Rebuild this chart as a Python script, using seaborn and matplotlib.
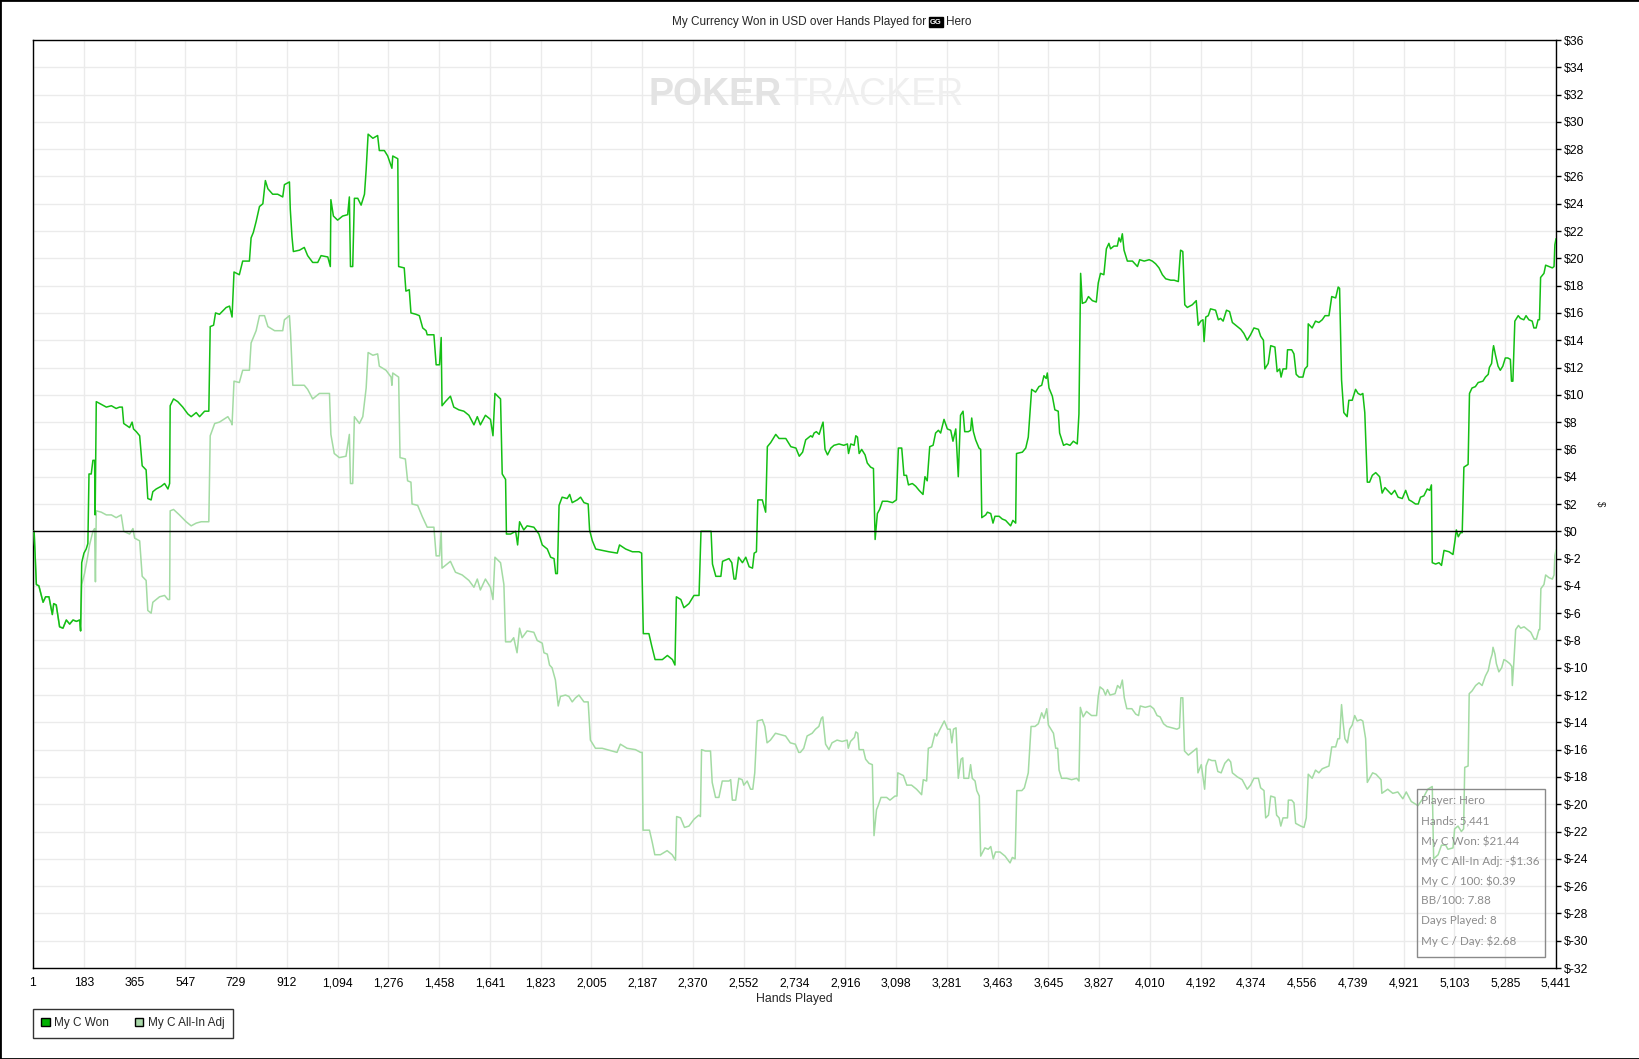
import numpy as np
import pandas as pd
import matplotlib
matplotlib.use('Agg')
import matplotlib.pyplot as plt
import seaborn as sns
from matplotlib.patches import Patch, Rectangle

# running totals (hand number, dollars)
won_hands = [1, 5, 13, 22, 37, 46, 58, 70, 75, 84, 96, 108, 120, 132, 144, 156, 168, 171, 175, 183,
             191, 197, 201, 209, 215, 221, 223, 227, 245, 263, 281, 298, 310, 320, 325, 346, 355, 360, 370, 382,
             391, 405, 411, 423, 429, 441, 459, 471, 483, 489, 491, 503, 518, 536, 554, 566, 584, 596, 614, 629,
             634, 646, 653, 667, 691, 703, 712, 719, 738, 750, 774, 780, 788, 798, 810, 822, 831, 840, 857, 875,
             893, 899, 917, 920, 926, 931, 953, 970, 982, 1000, 1018, 1030, 1054, 1063, 1065, 1074, 1089, 1107, 1125, 1131,
             1135, 1143, 1149, 1161, 1173, 1185, 1191, 1198, 1215, 1232, 1238, 1256, 1268, 1283, 1286, 1304, 1307, 1327, 1333, 1345,
             1351, 1369, 1381, 1393, 1405, 1409, 1433, 1441, 1453, 1459, 1462, 1474, 1492, 1504, 1522, 1540, 1558, 1576, 1588, 1599,
             1617, 1635, 1644, 1651, 1671, 1677, 1689, 1692, 1707, 1725, 1732, 1739, 1754, 1766, 1790, 1808, 1820, 1838, 1850, 1862,
             1868, 1874, 1880, 1891, 1909, 1918, 1927, 1945, 1957, 1969, 1984, 1989, 1999, 2011, 2034, 2058, 2088, 2096, 2118, 2142,
             2166, 2175, 2181, 2201, 2211, 2223, 2249, 2267, 2285, 2294, 2299, 2315, 2326, 2344, 2362, 2380, 2387, 2404, 2423, 2428,
             2440, 2458, 2464, 2487, 2497, 2505, 2511, 2521, 2535, 2547, 2559, 2571, 2577, 2585, 2590, 2606, 2618, 2624, 2636, 2654,
             2666, 2690, 2708, 2726, 2738, 2750, 2761, 2779, 2785, 2791, 2799, 2809, 2818, 2823, 2830, 2839, 2851, 2862, 2880, 2897,
             2910, 2914, 2922, 2934, 2940, 2946, 2952, 2961, 2973, 2981, 2993, 3003, 3009, 3017, 3025, 3035, 3053, 3071, 3085, 3092,
             3104, 3112, 3121, 3128, 3142, 3154, 3166, 3180, 3187, 3195, 3204, 3216, 3225, 3235, 3243, 3255, 3267, 3279, 3287, 3297,
             3306, 3314, 3323, 3329, 3342, 3350, 3354, 3360, 3368, 3380, 3386, 3390, 3404, 3410, 3422, 3430, 3437, 3452, 3463, 3475,
             3493, 3501, 3511, 3514, 3535, 3547, 3556, 3561, 3568, 3582, 3594, 3604, 3612, 3620, 3624, 3630, 3642, 3651, 3663, 3668,
             3676, 3682, 3693, 3705, 3717, 3731, 3737, 3743, 3749, 3761, 3771, 3785, 3799, 3806, 3814, 3826, 3835, 3844, 3850, 3862,
             3874, 3880, 3886, 3892, 3898, 3910, 3928, 3946, 3954, 3970, 3988, 3999, 4011, 4023, 4035, 4047, 4065, 4077, 4092, 4100,
             4108, 4115, 4124, 4142, 4156, 4163, 4172, 4180, 4184, 4190, 4199, 4207, 4225, 4235, 4243, 4252, 4264, 4275, 4285, 4303,
             4315, 4326, 4338, 4350, 4362, 4378, 4386, 4396, 4401, 4413, 4422, 4437, 4445, 4454, 4459, 4466, 4478, 4482, 4497, 4505,
             4513, 4523, 4537, 4544, 4553, 4556, 4570, 4582, 4594, 4606, 4616, 4630, 4640, 4654, 4663, 4668, 4675, 4683, 4695, 4701,
             4713, 4725, 4734, 4743, 4751, 4758, 4767, 4775, 4785, 4797, 4811, 4820, 4830, 4844, 4853, 4865, 4877, 4892, 4904, 4916,
             4925, 4939, 4949, 4957, 4969, 4981, 4990, 4996, 4999, 5011, 5023, 5032, 5041, 5059, 5073, 5080, 5085, 5092, 5100, 5106,
             5112, 5127, 5132, 5141, 5153, 5163, 5180, 5189, 5199, 5203, 5211, 5215, 5218, 5225, 5234, 5242, 5251, 5260, 5269, 5278,
             5282, 5287, 5294, 5306, 5314, 5326, 5334, 5344, 5356, 5362, 5370, 5377, 5382, 5386, 5398, 5404, 5416, 5428, 5434, 5437,
             5441]
won = [0, 0, -3.9, -4.0, -5.2, -4.8, -4.8, -6.1, -5.3, -5.4, -7.0, -7.1, -6.5, -6.8, -6.5, -6.6, -6.5, -7.3, -2.3, -1.6,
       -1.3, -0.9, 4.2, 4.2, 5.2, 5.2, 1.2, 9.5, 9.3, 9.1, 9.2, 9.0, 9.1, 9.1, 7.9, 7.6, 8.0, 7.5, 7.3, 7.0,
       4.8, 4.5, 2.4, 2.3, 2.9, 3.1, 3.3, 3.5, 3.1, 3.5, 9.2, 9.7, 9.5, 9.1, 8.6, 8.4, 8.7, 8.4, 8.8, 8.8,
       15.0, 15.1, 16.0, 15.9, 16.4, 16.5, 15.7, 19.0, 18.8, 19.8, 19.8, 21.5, 21.9, 22.7, 23.8, 24.0, 25.7, 25.1, 24.7, 24.7,
       24.5, 25.4, 25.6, 23.6, 21.6, 20.5, 20.6, 20.8, 20.2, 19.7, 19.7, 20.2, 20.1, 19.4, 24.3, 23.1, 22.8, 23.1, 23.2, 24.5,
       19.4, 19.4, 24.4, 24.4, 23.9, 24.7, 26.5, 29.1, 28.8, 29.0, 27.9, 27.9, 27.5, 26.6, 27.5, 27.3, 19.4, 19.3, 17.6, 17.7,
       16.0, 15.9, 15.8, 14.9, 14.7, 14.4, 14.4, 12.2, 12.2, 14.2, 9.2, 9.5, 9.9, 9.1, 8.9, 8.8, 8.5, 7.8, 8.4, 7.8,
       8.5, 8.2, 7.0, 10.1, 9.7, 4.2, 3.8, -0.2, -0.2, 0.0, -1.0, 0.7, 0.1, 0.4, 0.3, -0.2, -1.0, -1.3, -1.9, -2.0,
       -3.1, -3.1, 1.9, 2.5, 2.4, 2.7, 2.1, 2.3, 2.5, 2.1, 2.0, 0.1, -0.7, -1.3, -1.4, -1.5, -1.6, -1.0, -1.3, -1.5,
       -1.5, -1.6, -7.5, -7.5, -8.4, -9.4, -9.4, -9.1, -9.4, -9.8, -4.8, -5.0, -5.6, -5.3, -4.7, -4.7, 0.0, 0.0, 0.0, -2.4,
       -3.3, -3.3, -2.2, -2.0, -2.3, -3.5, -3.5, -1.9, -2.3, -1.9, -2.6, -2.7, -1.6, -1.5, 2.3, 2.3, 1.4, 6.2, 6.5, 7.1,
       6.8, 6.8, 6.2, 6.1, 5.5, 5.8, 6.7, 7.0, 6.9, 7.2, 7.3, 7.1, 7.7, 8.0, 6.0, 5.6, 6.1, 6.3, 6.4, 6.3,
       6.4, 5.7, 6.4, 6.3, 7.0, 6.9, 5.7, 6.0, 5.6, 5.0, 4.7, 4.6, -0.6, 1.3, 1.6, 2.2, 2.2, 2.1, 2.3, 6.1,
       6.1, 4.1, 4.1, 3.4, 3.5, 3.3, 3.0, 2.7, 4.0, 3.7, 6.2, 6.3, 7.2, 7.4, 7.2, 8.2, 7.5, 7.4, 6.6, 7.5,
       4.0, 8.5, 8.8, 7.3, 7.3, 7.4, 8.3, 7.3, 6.7, 6.1, 6.0, 1.0, 1.2, 1.4, 1.3, 0.6, 1.1, 1.1, 0.9, 0.8,
       0.4, 0.8, 0.6, 5.7, 5.8, 6.1, 6.9, 8.4, 10.4, 10.2, 10.6, 10.7, 11.4, 11.2, 11.6, 10.5, 9.9, 8.9, 8.8, 7.2,
       6.7, 6.3, 6.4, 6.3, 6.6, 6.4, 8.6, 18.9, 16.7, 16.8, 17.2, 16.9, 16.8, 18.2, 18.9, 18.8, 20.7, 21.1, 20.7, 20.9,
       20.9, 21.5, 21.2, 21.8, 20.6, 19.8, 19.8, 19.4, 19.9, 19.8, 19.9, 19.8, 19.6, 19.3, 18.8, 18.5, 18.4, 18.4, 18.3, 20.6,
       20.5, 16.6, 16.4, 16.6, 16.9, 15.1, 15.4, 15.5, 13.9, 15.7, 15.8, 16.3, 16.2, 15.5, 15.6, 15.4, 16.2, 16.1, 15.3, 15.0,
       14.8, 14.5, 14.0, 14.4, 14.9, 14.8, 14.3, 14.0, 11.9, 12.3, 13.6, 13.5, 11.7, 11.9, 11.3, 11.9, 11.9, 13.3, 13.3, 13.0,
       11.5, 11.3, 11.3, 11.9, 12.1, 15.2, 14.9, 15.4, 15.3, 15.5, 15.8, 15.8, 17.2, 17.1, 17.9, 17.8, 11.1, 8.7, 8.4, 9.6,
       9.6, 10.4, 10.1, 10.0, 10.1, 8.7, 3.6, 3.6, 4.1, 4.3, 4.0, 2.8, 3.2, 2.9, 2.7, 3.0, 2.5, 2.4, 3.0, 2.3,
       2.2, 2.0, 2.0, 2.5, 2.6, 3.1, 3.0, 3.4, -2.3, -2.4, -2.3, -2.5, -1.4, -1.5, -1.7, -0.7, 0.1, -0.4, -0.1, -0.1,
       4.7, 4.9, 10.1, 10.5, 10.6, 10.9, 11.0, 11.3, 11.5, 12.0, 12.3, 13.2, 13.6, 12.9, 12.1, 11.8, 12.1, 12.7, 12.7, 12.6,
       11.0, 11.0, 15.4, 15.8, 15.6, 15.5, 15.8, 15.5, 15.4, 14.9, 14.9, 15.5, 15.5, 18.6, 18.9, 19.5, 19.4, 19.3, 19.4, 21.0,
       21.44]

adj_hands = [1, 5, 13, 22, 37, 46, 58, 70, 75, 84, 96, 108, 120, 132, 144, 156, 168, 171, 175, 185,
             195, 203, 215, 221, 224, 227, 245, 263, 281, 298, 316, 325, 346, 358, 364, 382, 391, 405, 411, 423,
             429, 453, 471, 483, 489, 491, 503, 524, 548, 566, 584, 602, 629, 634, 650, 667, 697, 709, 712, 719,
             738, 750, 774, 780, 788, 798, 810, 828, 840, 864, 893, 899, 917, 921, 929, 953, 970, 982, 1000, 1024,
             1060, 1065, 1077, 1095, 1119, 1131, 1135, 1143, 1149, 1167, 1179, 1191, 1198, 1215, 1232, 1238, 1262, 1280, 1283, 1286,
             1307, 1312, 1331, 1339, 1351, 1355, 1375, 1391, 1409, 1433, 1441, 1453, 1459, 1462, 1492, 1510, 1534, 1558, 1576, 1588,
             1599, 1617, 1635, 1644, 1651, 1671, 1677, 1683, 1689, 1707, 1718, 1730, 1739, 1748, 1766, 1790, 1802, 1820, 1826, 1838,
             1846, 1855, 1867, 1877, 1885, 1903, 1915, 1927, 1939, 1951, 1969, 1984, 1992, 2010, 2034, 2052, 2070, 2087, 2099, 2123,
             2153, 2171, 2177, 2180, 2203, 2213, 2222, 2242, 2266, 2284, 2296, 2300, 2314, 2328, 2344, 2362, 2379, 2385, 2389, 2403,
             2421, 2427, 2439, 2451, 2463, 2487, 2493, 2499, 2511, 2522, 2534, 2540, 2552, 2564, 2572, 2579, 2588, 2606, 2615, 2623,
             2635, 2653, 2671, 2689, 2706, 2724, 2736, 2742, 2754, 2766, 2784, 2796, 2808, 2817, 2822, 2832, 2844, 2855, 2873, 2891,
             2909, 2913, 2921, 2935, 2940, 2947, 2952, 2967, 2975, 2987, 2999, 3005, 3014, 3020, 3030, 3050, 3062, 3080, 3087, 3090,
             3110, 3122, 3139, 3157, 3175, 3181, 3193, 3199, 3211, 3223, 3229, 3241, 3256, 3268, 3277, 3283, 3289, 3298, 3306, 3316,
             3322, 3326, 3343, 3350, 3356, 3366, 3372, 3381, 3386, 3401, 3413, 3422, 3431, 3439, 3455, 3473, 3491, 3499, 3509, 3515,
             3533, 3542, 3556, 3566, 3580, 3592, 3604, 3612, 3622, 3628, 3646, 3654, 3661, 3666, 3675, 3693, 3711, 3729, 3737, 3742,
             3752, 3764, 3782, 3800, 3806, 3812, 3824, 3832, 3839, 3848, 3866, 3875, 3884, 3892, 3899, 3908, 3926, 3940, 3950, 3956,
             3974, 3992, 4004, 4016, 4027, 4039, 4051, 4069, 4087, 4096, 4101, 4108, 4114, 4128, 4146, 4158, 4162, 4174, 4186, 4191,
             4200, 4212, 4224, 4233, 4245, 4258, 4271, 4279, 4285, 4303, 4320, 4338, 4350, 4362, 4378, 4386, 4398, 4404, 4414, 4422,
             4437, 4443, 4452, 4458, 4466, 4482, 4485, 4497, 4505, 4511, 4529, 4541, 4549, 4556, 4570, 4582, 4594, 4606, 4618, 4630,
             4640, 4654, 4662, 4668, 4675, 4680, 4687, 4696, 4704, 4713, 4722, 4731, 4743, 4751, 4761, 4767, 4786, 4798, 4816, 4819,
             4840, 4858, 4876, 4894, 4906, 4924, 4948, 4965, 4983, 4999, 5004, 5020, 5032, 5047, 5055, 5073, 5079, 5091, 5103, 5111,
             5115, 5127, 5131, 5141, 5154, 5166, 5177, 5189, 5199, 5207, 5213, 5216, 5223, 5228, 5237, 5247, 5255, 5264, 5276, 5283,
             5285, 5291, 5297, 5307, 5315, 5327, 5339, 5351, 5363, 5371, 5380, 5383, 5387, 5398, 5404, 5416, 5428, 5434, 5437, 5441]
adj = [0, 0, -3.9, -4.0, -5.2, -4.8, -4.8, -6.1, -5.3, -5.4, -7.0, -7.1, -6.5, -6.8, -6.5, -6.6, -6.5, -7.3, -3.9, -3.1,
       -2.0, -1.0, 0.0, 0.2, -3.7, 1.5, 1.4, 1.2, 1.2, 1.0, 1.2, 0.0, -0.2, 0.2, -0.5, -0.7, -3.3, -3.6, -5.8, -6.0,
       -5.2, -4.8, -4.7, -5.0, -5.0, 1.5, 1.6, 1.2, 0.7, 0.4, 0.6, 0.7, 0.7, 7.0, 7.9, 8.0, 8.4, 8.0, 7.8, 11.0,
       10.9, 11.8, 11.8, 13.8, 14.2, 14.7, 15.8, 15.8, 15.0, 14.7, 14.7, 15.5, 15.8, 14.5, 10.7, 10.7, 10.7, 10.4, 9.7, 10.1,
       10.1, 7.1, 5.7, 5.4, 5.5, 7.1, 3.5, 3.5, 8.4, 7.9, 8.4, 10.5, 13.1, 12.9, 13.0, 12.1, 11.8, 11.3, 10.7, 11.6,
       11.3, 5.4, 5.3, 3.7, 3.6, 2.0, 1.9, 1.1, 0.3, 0.3, -1.8, -1.8, 0.0, -2.7, -2.2, -3.0, -3.2, -3.6, -4.1, -3.5,
       -4.3, -3.5, -4.1, -5.0, -1.9, -2.3, -3.1, -3.9, -8.1, -8.1, -7.8, -8.9, -7.1, -7.8, -7.3, -7.4, -8.0, -8.2, -8.9, -9.0,
       -9.8, -10.0, -10.9, -12.8, -12.1, -12.0, -12.1, -12.5, -12.2, -12.0, -12.5, -12.5, -15.3, -15.9, -15.9, -16.0, -16.1, -16.2, -15.6, -15.9,
       -16.0, -16.2, -16.2, -21.9, -21.9, -22.8, -23.7, -23.7, -23.4, -23.7, -24.1, -20.9, -21.0, -21.7, -21.6, -21.1, -20.8, -20.9, -16.0, -16.1,
       -16.1, -18.4, -19.5, -19.5, -18.3, -18.3, -18.2, -19.7, -19.7, -18.1, -18.2, -18.6, -18.3, -18.9, -18.9, -17.7, -13.9, -13.8, -14.3, -15.5,
       -15.3, -14.8, -14.9, -15.0, -15.5, -15.6, -16.2, -16.2, -15.9, -15.0, -14.8, -14.5, -14.3, -13.7, -13.6, -15.6, -16.0, -15.5, -15.3, -15.4,
       -15.3, -15.9, -15.4, -15.1, -14.7, -14.8, -16.0, -16.0, -16.7, -17.0, -17.1, -22.3, -20.4, -20.1, -19.5, -19.5, -19.7, -19.4, -19.4, -17.7,
       -17.9, -18.6, -18.6, -18.9, -19.3, -18.2, -18.3, -15.9, -15.8, -14.8, -15.0, -14.5, -13.9, -14.5, -14.5, -15.5, -14.5, -14.4, -18.1, -16.7,
       -16.6, -18.1, -18.1, -17.1, -18.1, -18.3, -19.0, -19.4, -23.8, -23.2, -23.3, -23.1, -24.0, -23.5, -23.5, -23.8, -24.3, -23.9, -24.0, -19.0,
       -19.0, -18.8, -17.7, -14.3, -14.3, -14.1, -13.3, -13.7, -13.0, -14.2, -14.8, -15.9, -15.9, -17.5, -18.1, -18.1, -18.2, -18.1, -18.3, -12.9,
       -13.6, -13.2, -13.5, -13.5, -12.1, -11.4, -11.6, -12.0, -11.6, -12.0, -11.9, -11.3, -11.5, -10.9, -12.2, -13.0, -13.0, -13.4, -13.5, -12.8,
       -12.9, -12.8, -13.0, -13.5, -13.6, -14.1, -14.3, -14.4, -14.5, -14.4, -12.2, -12.2, -16.1, -16.4, -16.1, -15.9, -17.7, -17.1, -18.9, -17.2,
       -16.7, -16.8, -16.8, -17.6, -17.7, -17.0, -16.7, -16.9, -17.7, -18.0, -18.2, -18.9, -18.6, -18.1, -18.1, -18.8, -19.0, -21.0, -20.8, -19.4,
       -19.5, -20.8, -21.0, -21.6, -21.0, -21.0, -19.7, -19.7, -19.9, -21.4, -21.6, -21.7, -21.0, -17.8, -18.1, -17.5, -17.7, -17.4, -17.3, -17.2,
       -15.8, -15.8, -15.2, -15.2, -12.7, -13.9, -15.2, -15.5, -14.5, -14.2, -13.5, -13.9, -13.8, -13.9, -15.2, -18.4, -17.7, -17.8, -18.2, -19.2,
       -18.9, -19.2, -19.1, -19.6, -19.1, -19.8, -20.1, -19.6, -18.9, -18.7, -24.0, -23.7, -23.0, -23.0, -23.3, -23.2, -21.8, -21.6, -22.0, -21.8,
       -17.3, -17.2, -11.9, -11.7, -11.3, -11.1, -11.3, -10.6, -10.2, -9.4, -9.0, -8.5, -9.0, -9.7, -10.3, -10.0, -9.4, -9.5, -9.7, -9.9,
       -11.3, -9.4, -7.2, -6.9, -7.1, -7.0, -7.2, -7.4, -7.9, -7.9, -7.2, -7.2, -4.2, -3.9, -3.2, -3.4, -3.5, -3.2, -1.8, -1.36]

x_labels = ['1', '183', '365', '547', '729', '912', '1,094', '1,276', '1,458', '1,641', '1,823', '2,005',
            '2,187', '2,370', '2,552', '2,734', '2,916', '3,098', '3,281', '3,463', '3,645', '3,827', '4,010',
            '4,192', '4,374', '4,556', '4,739', '4,921', '5,103', '5,285', '5,441']
y_ticks = list(range(-32, 37, 2))

info_lines = ['Player: Hero', 'Hands: 5,441', 'My C Won: $21.44', 'My C All-In Adj: -$1.36',
              'My C / 100: $0.39', 'BB/100: 7.88', 'Days Played: 8', 'My C / Day: $2.68']

c_won = '#14bf14'
c_adj = '#a3dba3'

sns.set_style('white')
plt.rcParams['font.family'] = ['Liberation Sans', 'DejaVu Sans']

W, H = 1640, 1059
fig = plt.figure(figsize=(W / 100, H / 100), dpi=100)
ax = fig.add_axes([33 / W, 1 - 968 / H, (1556 - 33) / W, (968 - 40) / H])

df_won = pd.DataFrame({'hand': won_hands, 'value': won})
df_adj = pd.DataFrame({'hand': adj_hands, 'value': adj})
sns.lineplot(data=df_adj, x='hand', y='value', ax=ax, color=c_adj, lw=1.1,
             estimator=None, sort=False, zorder=3)
sns.lineplot(data=df_won, x='hand', y='value', ax=ax, color=c_won, lw=1.1,
             estimator=None, sort=False, zorder=4)
ax.axhline(0, color='black', lw=1, zorder=5)

ax.set_xlim(1, 5441)
ax.set_ylim(-32, 36)
ax.set_xticks(np.linspace(1, 5441, len(x_labels)))
ax.set_xticklabels(x_labels)
ax.set_yticks(y_ticks)
ax.set_yticklabels([f'${v}' for v in y_ticks])
ax.yaxis.tick_right()
ax.tick_params(axis='both', direction='out', length=3.5, width=1, color='black',
               labelsize=8.8, labelcolor='black', pad=2)
ax.tick_params(axis='x', pad=3)
ax.grid(True, color='#ebebeb', lw=1)
ax.set_axisbelow(True)
for sp in ax.spines.values():
    sp.set_visible(True)
    sp.set_color('black')
    sp.set_linewidth(1)
ax.set_xlabel('')
ax.set_ylabel('')

# watermark
wm_y = (968 - 105) / 928
ax.text((782 - 33) / 1523, wm_y, 'POKER', transform=ax.transAxes, ha='right', va='baseline',
        fontsize=27, fontweight='bold', color='#e3e3e3', zorder=1)
ax.text((784 - 33) / 1523, wm_y, 'TRACKER', transform=ax.transAxes, ha='left', va='baseline',
        fontsize=27, color='#efefef', zorder=1)

# title with the small site badge
ty = 1 - 22 / H
fig.text(926 / W, ty, 'My Currency Won in USD over Hands Played for', ha='right', va='center', fontsize=8.5)
fig.text(936 / W, ty, 'GG', ha='center', va='center', fontsize=5.5, color='white', fontweight='bold',
         bbox=dict(boxstyle='square,pad=0.15', facecolor='black', edgecolor='black'))
fig.text(946 / W, ty, 'Hero', ha='left', va='center', fontsize=8.5)

fig.text((33 + 1556) / 2 / W, 1 - 999 / H, 'Hands Played', ha='center', va='center', fontsize=8.8)
fig.text(1600 / W, 1 - 504 / H, '$', ha='center', va='center', fontsize=7, rotation=-90)

# summary box
fig.add_artist(Rectangle((1417 / W, 1 - 957 / H), 128 / W, 168 / H, transform=fig.transFigure,
                         fill=False, edgecolor='#8a8a8a', lw=1, zorder=6))
for i, line in enumerate(info_lines):
    fig.text(1421 / W, 1 - (801 + 20 * i) / H, line, ha='left', va='center', fontsize=8.4,
             color='#8c8c8c', family=['Lato', 'DejaVu Sans'])

handles = [Patch(facecolor='#00b000', edgecolor='black', label='My C Won'),
           Patch(facecolor='#a8d8a8', edgecolor='black', label='My C All-In Adj')]
leg = fig.legend(handles=handles, loc='upper left', bbox_to_anchor=(33 / W, 1 - 1009 / H), ncol=2,
                 frameon=True, fancybox=False, edgecolor='black', fontsize=8.5, handlelength=0.7,
                 handleheight=0.7, handletextpad=0.4, columnspacing=2.2, borderpad=0.7, borderaxespad=0)
leg.get_frame().set_linewidth(1)

fig.add_artist(Rectangle((0, 0), 1, 1, transform=fig.transFigure, fill=False, edgecolor='black', lw=2))

fig.savefig('out.png', dpi=100)
